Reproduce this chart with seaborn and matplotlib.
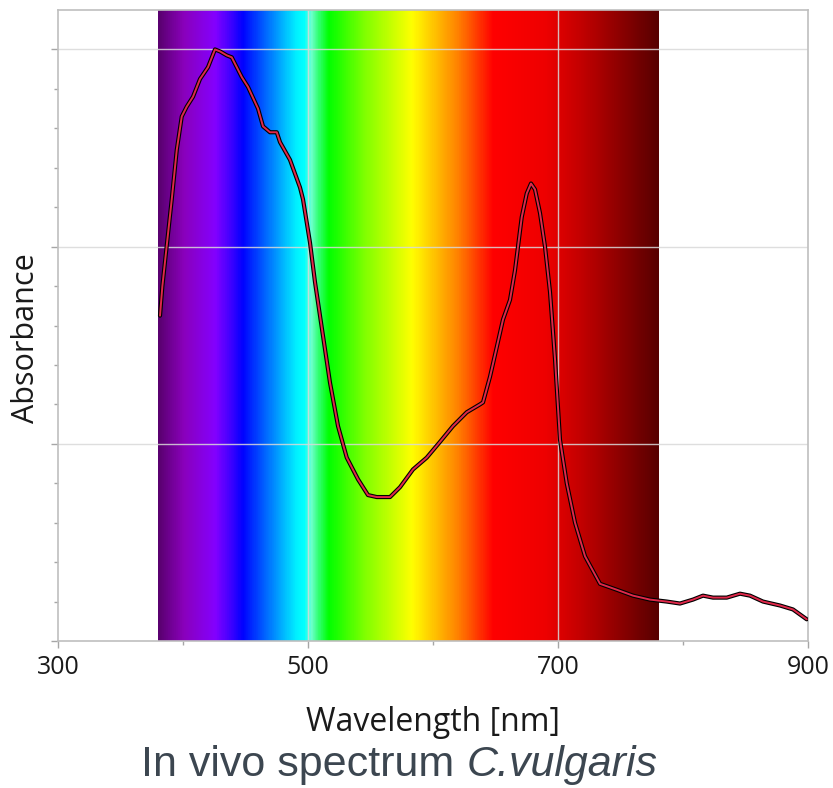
import numpy as np
import matplotlib
matplotlib.use("Agg")
import matplotlib.pyplot as plt
from matplotlib.colors import LinearSegmentedColormap
import seaborn as sns

# absorbance spectrum (arbitrary units)
wavelength = [381.6, 383.5, 386.9, 391.0, 395.0, 399.0, 403.0, 408.0, 413.6, 420.0,
              425.6, 429.6, 435.0, 439.0, 443.0, 447.0, 452.0, 460.0, 464.0, 469.6,
              475.0, 477.6, 485.6, 493.6, 496.0, 501.6, 505.6, 511.0, 517.6, 524.0,
              531.0, 540.0, 548.0, 555.0, 565.6, 573.6, 584.0, 595.0, 605.6, 616.0,
              627.0, 637.6, 640.0, 645.6, 651.0, 656.0, 661.6, 665.6, 668.0, 671.0,
              675.0, 678.4, 681.6, 685.6, 689.6, 693.6, 697.6, 701.6, 707.0, 713.6,
              721.6, 733.6, 747.0, 760.0, 773.6, 787.0, 797.6, 808.0, 816.0, 824.0,
              835.0, 845.6, 853.6, 864.0, 877.6, 888.0, 899.0]
absorbance = [1.65, 1.80, 2.00, 2.24, 2.49, 2.66, 2.71, 2.76, 2.85, 2.91,
              3.00, 2.99, 2.97, 2.96, 2.91, 2.86, 2.81, 2.70, 2.61, 2.58,
              2.58, 2.53, 2.44, 2.30, 2.24, 2.02, 1.82, 1.59, 1.31, 1.09,
              0.93, 0.82, 0.74, 0.73, 0.73, 0.78, 0.87, 0.93, 1.01, 1.09,
              1.16, 1.20, 1.21, 1.34, 1.49, 1.63, 1.73, 1.88, 2.00, 2.15,
              2.27, 2.32, 2.29, 2.17, 2.00, 1.77, 1.43, 1.02, 0.80, 0.60,
              0.43, 0.29, 0.26, 0.23, 0.21, 0.20, 0.19, 0.21, 0.23, 0.22,
              0.22, 0.24, 0.23, 0.20, 0.18, 0.16, 0.11]

# visible band behind the curve
band_start, band_end = 380, 780
band_nm = [380, 400, 425, 440, 447, 470, 490, 496, 502, 508, 516, 545, 583, 620, 648, 690, 720, 780]
band_colors = ["#5a0070", "#8a00bc", "#8400ff", "#3000ff", "#0000ff", "#0080ff", "#00f0ff",
               "#00ffff", "#70ffd0", "#30ff70", "#00ff00", "#80ff00", "#ffff00", "#ff8000",
               "#ff0000", "#ee0000", "#c00000", "#580000"]

x_major = [300, 500, 700, 900]
x_minor = [400, 600, 800]
y_major = [0, 1, 2, 3]

sns.set_theme(style="white")
plt.rcParams["font.family"] = ["Open Sans", "DejaVu Sans"]

fig = plt.figure(figsize=(8.33, 7.88), dpi=100)
ax = fig.add_axes([58 / 833, 147 / 788, 750 / 833, 631 / 788])

stops = [(v - band_start) / (band_end - band_start) for v in band_nm]
cmap = LinearSegmentedColormap.from_list("vis", list(zip(stops, band_colors)))
grad = np.linspace(0, 1, 800)[None, :]
ax.imshow(grad, cmap=cmap, aspect="auto", extent=[band_start, band_end, 0, 3.2],
          interpolation="bilinear", zorder=0)

sns.lineplot(x=wavelength, y=absorbance, ax=ax, color="black", linewidth=3.0, zorder=3)
sns.lineplot(x=wavelength, y=absorbance, ax=ax, color="#e0284a", linewidth=1.4, zorder=4)

ax.set_xlim(300, 900)
ax.set_ylim(0, 3.2)
ax.set_xticks(x_major)
ax.set_xticks(x_minor, minor=True)
ax.set_yticks(y_major)
ax.set_yticks(np.arange(0, 3.2, 0.2), minor=True)
ax.set_yticklabels([])

for v in y_major[1:]:
    ax.axhline(v, color="#d9d9d9", lw=1.0, alpha=0.85, zorder=2)
for v in x_major[1:3]:
    ax.axvline(v, color="#d9d9d9", lw=1.0, alpha=0.85, zorder=2)

for s in ax.spines.values():
    s.set_color("#bfbfbf")
    s.set_linewidth(1.2)

ax.tick_params(axis="both", which="major", direction="out", length=5, width=1,
               color="#a6a6a6", labelsize=18, labelcolor="#1a1a1a", pad=5,
               bottom=True, left=True)
ax.tick_params(axis="both", which="minor", direction="out", length=3, width=1,
               color="#a6a6a6", bottom=True, left=True)

ax.set_xlabel("Wavelength [nm]", fontsize=23, color="#1a1a1a", labelpad=19)
ax.set_ylabel("Absorbance", fontsize=22, color="#1a1a1a")
ax.yaxis.set_label_coords(-0.022, 0.48)

t1 = fig.text(141 / 833, 1 - 776 / 788, "In vivo spectrum ", fontsize=31,
              family=["Liberation Sans", "DejaVu Sans"], color="#3c4650", va="baseline")
ax.annotate("C.vulgaris", xy=(1, 0), xycoords=t1, fontsize=31, style="italic",
            family=["Liberation Sans", "DejaVu Sans"], color="#3c4650", va="bottom",
            annotation_clip=False)

fig.savefig("out.png", dpi=100)
